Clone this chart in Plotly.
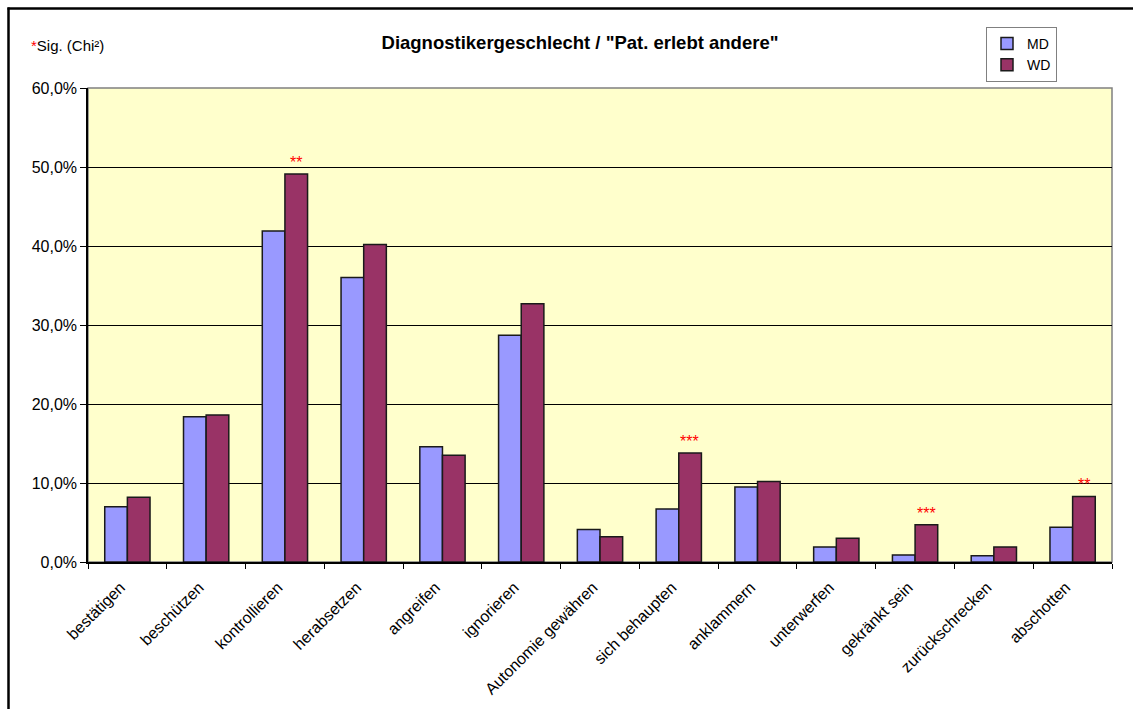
import plotly.graph_objects as go

# Categories and percentages per diagnostician gender
categories = [
    "bestätigen", "beschützen", "kontrollieren", "herabsetzen", "angreifen",
    "ignorieren", "Autonomie gewähren", "sich behaupten", "anklammern",
    "unterwerfen", "gekränkt sein", "zurückschrecken", "abschotten",
]
md_values = [7.0, 18.4, 41.9, 36.0, 14.6, 28.7, 4.1, 6.7, 9.5, 1.9, 0.9, 0.8, 4.4]
wd_values = [8.2, 18.6, 49.1, 40.2, 13.5, 32.7, 3.2, 13.8, 10.2, 3.0, 4.7, 1.9, 8.3]
# Significance markers (Chi²) for each category
sig_marks = ["", "", "**", "", "", "", "", "***", "", "", "***", "", "**"]
y_ticks = [0, 10, 20, 30, 40, 50, 60]
y_tick_labels = [f"{v:.1f}%".replace(".", ",") for v in y_ticks]

FONT = "Liberation Sans, Arial, sans-serif"
W, H = 1133, 709
L, R, T, B = 88, 21, 88, 147

fig = go.Figure()
fig.add_trace(go.Bar(
    name="MD", x=categories, y=md_values,
    marker=dict(color="#9999FF", line=dict(color="#1a1a1a", width=1.5)),
))
fig.add_trace(go.Bar(
    name="WD", x=categories, y=wd_values,
    marker=dict(color="#993366", line=dict(color="#1a1a1a", width=1.5)),
))

# Red significance stars above the WD bars
for cat, val, mark in zip(categories, wd_values, sig_marks):
    if mark:
        fig.add_annotation(
            x=cat, y=val, text=mark, showarrow=False,
            xanchor="center", yanchor="bottom", xshift=11, yshift=1,
            font=dict(family=FONT, size=16, color="#FF0000"),
        )

pw = W - L - R
ph = H - T - B


def px_x(p):
    return (p - L) / pw


def px_y(p):
    return (H - B - p) / ph


fig.add_annotation(
    xref="paper", yref="paper", x=px_x(29), y=px_y(46),
    xanchor="left", yanchor="middle", showarrow=False,
    text="<span style='color:#FF0000'>*</span>Sig. (Chi²)",
    font=dict(family=FONT, size=15, color="#000000"),
)

# Outer chart frame: left and top edges
fig.add_shape(
    type="line", xref="paper", yref="paper",
    x0=px_x(8.5), x1=px_x(8.5), y0=px_y(7.5), y1=px_y(H),
    line=dict(color="#000000", width=2.5), layer="below",
)
fig.add_shape(
    type="line", xref="paper", yref="paper",
    x0=px_x(7.5), x1=px_x(W), y0=px_y(8.5), y1=px_y(8.5),
    line=dict(color="#000000", width=2.5), layer="below",
)
# Plot area frame (grey on top and right)
fig.add_shape(
    type="rect", xref="paper", yref="paper", x0=0, x1=1, y0=0, y1=1,
    line=dict(color="#808080", width=1.5), layer="below",
)

fig.update_layout(
    width=W, height=H,
    margin=dict(l=L, r=R, t=T, b=B),
    paper_bgcolor="#FFFFFF", plot_bgcolor="#FFFFCC",
    barmode="group", bargap=0.425, bargroupgap=0,
    font=dict(family=FONT, size=16, color="#000000"),
    title=dict(
        text="<b>Diagnostikergeschlecht / \"Pat. erlebt andere\"</b>",
        x=580 / W, xanchor="center", xref="container",
        y=1 - 43 / H, yanchor="middle", yref="container",
        font=dict(family=FONT, size=18.5, color="#000000"),
    ),
    legend=dict(
        x=px_x(986), y=px_y(27), xanchor="left", yanchor="top",
        bgcolor="#FFFFFF", bordercolor="#808080", borderwidth=1,
        font=dict(family=FONT, size=14), itemwidth=30, tracegroupgap=0,
    ),
    showlegend=True,
)
fig.update_xaxes(
    type="category", tickangle=-45, tickson="boundaries",
    ticks="outside", ticklen=5, tickcolor="#000000",
    ticklabelshift=-7, ticklabelstandoff=8,
    showline=True, linecolor="#000000", linewidth=1.5,
    showgrid=False, tickfont=dict(family=FONT, size=16),
)
fig.update_yaxes(
    range=[0, 60], tickvals=y_ticks, ticktext=y_tick_labels,
    ticks="outside", ticklen=6, tickcolor="#000000",
    showline=True, linecolor="#000000", linewidth=1.5,
    showgrid=True, gridcolor="#000000", gridwidth=1,
    zeroline=False, tickfont=dict(family=FONT, size=16),
)

fig.write_html("out.html")
